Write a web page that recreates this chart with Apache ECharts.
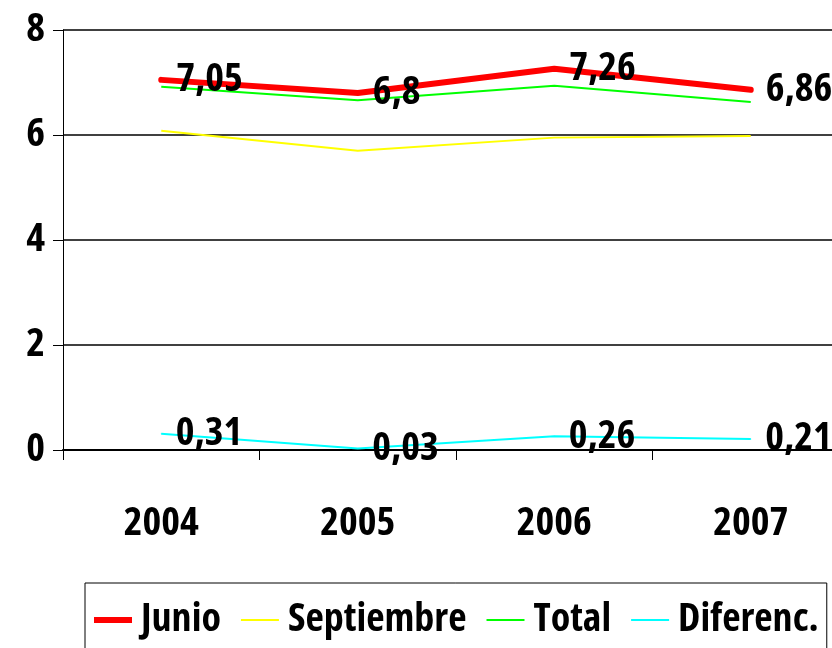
<!DOCTYPE html>
<html>
<head>
<meta charset="utf-8">
<script src="https://cdn.jsdelivr.net/npm/echarts@6/dist/echarts.min.js"></script>
<style>
  html, body { margin: 0; padding: 0; background: #fff; overflow: hidden; }
  /* plot runs past the right edge of the window in the original */
  #chart { width: 860px; height: 648px; }
</style>
</head>
<body>
<div id="chart"></div>
<script>
// values
const years = ['2004', '2005', '2006', '2007'];
const junio = [7.05, 6.8, 7.26, 6.86];
const septiembre = [6.08, 5.70, 5.95, 5.98];
const total = [6.92, 6.66, 6.94, 6.63];
const diferenc = [0.31, 0.03, 0.26, 0.21];

const FONT = '"Open Sans", "Noto Sans", sans-serif';
// canvas font shorthand accepts a stretch keyword after the weight
const WEIGHT = 'bold condensed';

const chart = echarts.init(document.getElementById('chart'));

function valueLabel() {
  return {
    show: true,
    position: 'right',
    distance: 14,
    fontFamily: FONT,
    fontWeight: WEIGHT,
    fontSize: 40,
    color: '#000',
    formatter: p => String(p.value).replace('.', ',')
  };
}

const thick = 'path://M0,0H38V6H0Z';
const thin = 'path://M0,0H38V2H0Z';

const options = {
  animation: false,
  backgroundColor: '#fff',
  grid: {
    left: 63,
    top: 30,
    right: 11,
    bottom: 198,
    containLabel: false
  },
  legend: {
    data: [
      { name: 'Junio', icon: thick },
      { name: 'Septiembre', icon: thin },
      { name: 'Total', icon: thin },
      { name: 'Diferenc.', icon: thin }
    ],
    left: 85,
    top: 583,
    itemWidth: 38,
    itemHeight: 6,
    itemGap: 20,
    padding: [17, 8, 40, 9],
    borderColor: '#000',
    borderWidth: 1,
    textStyle: {
      fontFamily: FONT,
      fontWeight: WEIGHT,
      fontSize: 40,
      color: '#000',
      padding: [0, 0, 0, 4]
    }
  },
  xAxis: {
    type: 'category',
    boundaryGap: true,
    data: years,
    axisLine: { lineStyle: { color: '#000', width: 2 } },
    axisTick: { show: true, length: 10, lineStyle: { color: '#000' } },
    axisLabel: {
      margin: 54,
      fontFamily: FONT,
      fontWeight: WEIGHT,
      fontSize: 40,
      color: '#000'
    }
  },
  yAxis: {
    type: 'value',
    min: 0,
    max: 8,
    interval: 2,
    axisLine: { show: true, lineStyle: { color: '#000', width: 1 } },
    axisTick: { show: true, length: 10, lineStyle: { color: '#000' } },
    splitLine: { show: true, lineStyle: { color: '#000', width: 1.5 } },
    axisLabel: {
      margin: 18,
      fontFamily: FONT,
      fontWeight: WEIGHT,
      fontSize: 40,
      color: '#000'
    }
  },
  series: [
    {
      name: 'Junio',
      type: 'line',
      data: junio,
      symbol: 'circle',
      symbolSize: 2,
      color: '#FF0000',
      lineStyle: { color: '#FF0000', width: 6, cap: 'round', join: 'round' },
      label: valueLabel(),
      z: 5
    },
    {
      name: 'Septiembre',
      type: 'line',
      data: septiembre,
      symbol: 'none',
      color: '#FFFF00',
      lineStyle: { color: '#FFFF00', width: 2 },
      z: 3
    },
    {
      name: 'Total',
      type: 'line',
      data: total,
      symbol: 'none',
      color: '#00FF00',
      lineStyle: { color: '#00FF00', width: 2 },
      z: 4
    },
    {
      name: 'Diferenc.',
      type: 'line',
      data: diferenc,
      symbol: 'circle',
      symbolSize: 1,
      color: '#00FFFF',
      lineStyle: { color: '#00FFFF', width: 2 },
      label: valueLabel(),
      z: 4
    }
  ]
};

chart.setOption(options);
</script>
</body>
</html>
